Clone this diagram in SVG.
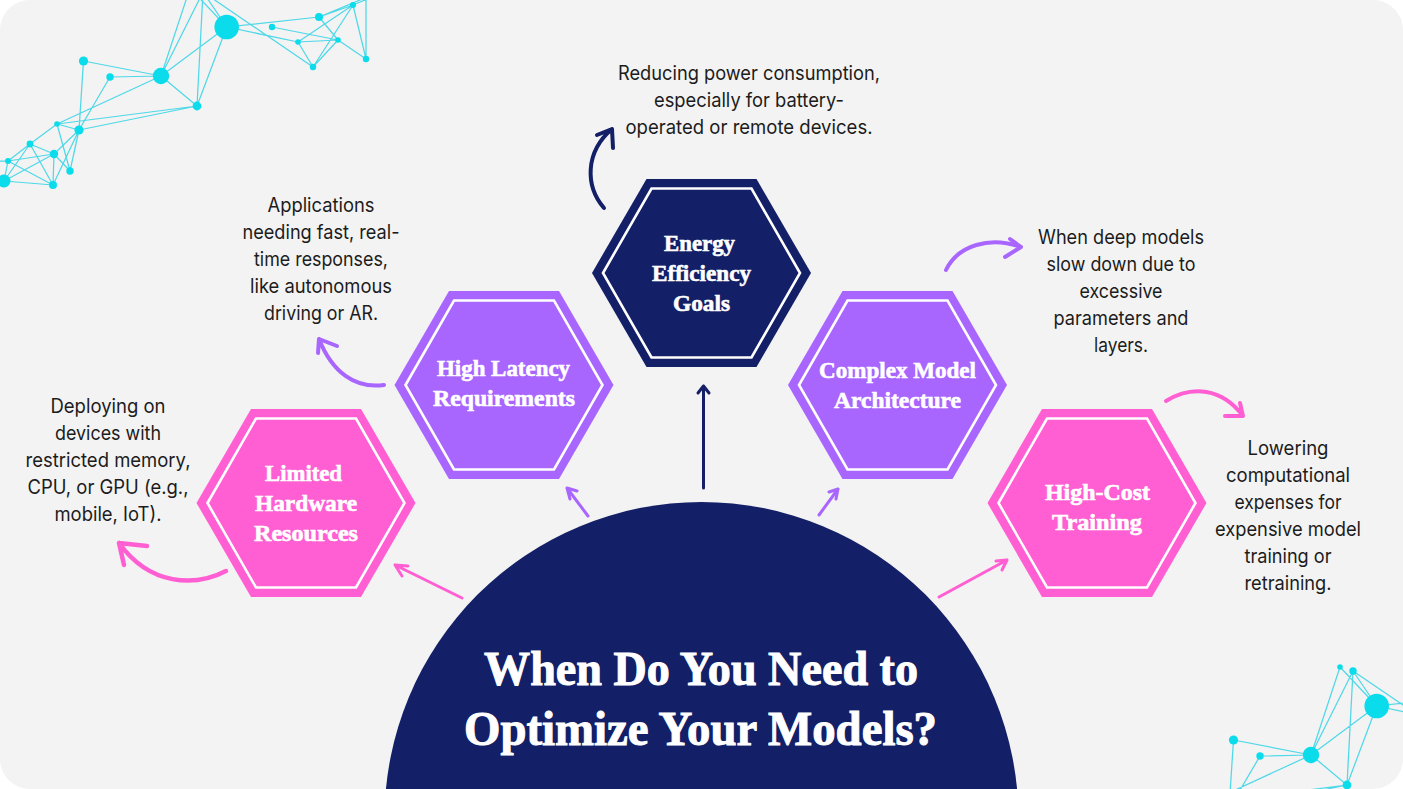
<svg xmlns="http://www.w3.org/2000/svg" xmlns:xlink="http://www.w3.org/1999/xlink" width="1403" height="789" viewBox="0 0 1403 789">
<style>
.body{font-family:"Inter","Liberation Sans",sans-serif;font-size:19.5px;fill:#1c1c1c;text-anchor:middle}
.hl{font-family:"Liberation Serif",serif;font-weight:bold;font-size:23px;fill:#fff;stroke:#fff;stroke-width:.6;text-anchor:middle}
.title{font-family:"Liberation Serif",serif;font-weight:bold;font-size:48px;fill:#fff;stroke:#fff;stroke-width:1;text-anchor:middle}
.inner{fill:none;stroke:#fff;stroke-width:2.6}
.pink{fill:#ff5fd2}.purple{fill:#a966ff}.navy{fill:#131f66}
.a{fill:none;stroke-linecap:round;stroke-linejoin:round}
.ap{stroke:#ff5fd2}.au{stroke:#a966ff}.an{stroke:#131f66}
.e{stroke:#4fd8e8;stroke-width:1.25;fill:none}
.n{fill:#0bdcec}
</style>
<defs>
<polygon id="hexo" points="-109.500,0 -55,-94 55,-94 109.500,0 55,94 -55,94"/>
<polygon id="hexi" class="inner" points="-98.500,0 -50,-84.500 50,-84.500 98.500,0 50,84.500 -50,84.500"/>
<g id="net">
<path class="e" d="M226.700 27L161 76M226.700 27L197 106M226.700 27L190 -12M226.700 27L203 -8M161 76L190 -12M161 76L203 -8M161 76L197 106M203 -8L197 106M161 76L83.500 61M161 76L110 77M83.500 61L79 130M110 77L79 130M161 76L57 124M57 124L197 106M79 130L197 106M57 124L79 130M57 124L70 171M79 130L70 171M79 130L53 185M79 130L54 154M57 124L30 144M30 144L8 161M30 144L54 154M30 144L53 185M8 161L54 154M8 161L4 181M4 181L30 144M4 181L54 154M4 181L53 185M8 161L53 185M54 154L53 185M54 154L70 171M0 161L8 161M226.700 27L319 17M226.700 27L298 42M272 27L338 40M203 -8L313 67M298 42L338 40M298 42L313 67M298 42L353 5M319 17L338 40M319 17L353 5M319 17L372 -5M313 67L353 5M313 67L338 40M338 40L366 59M353 5L366 59M366 59L366 -5M353 5L372 -3"/>
<circle class="n" cx="226.700" cy="27" r="12.300"/><circle class="n" cx="161" cy="76" r="8.200"/><circle class="n" cx="83.500" cy="61" r="4.600"/><circle class="n" cx="110" cy="77" r="3.700"/><circle class="n" cx="197" cy="106" r="4.400"/><circle class="n" cx="57" cy="124" r="2.800"/><circle class="n" cx="79" cy="130" r="4.600"/><circle class="n" cx="30" cy="144" r="3.400"/><circle class="n" cx="54" cy="154" r="4.200"/><circle class="n" cx="8" cy="161" r="3"/><circle class="n" cx="70" cy="171" r="3.700"/><circle class="n" cx="53" cy="185" r="4"/><circle class="n" cx="4" cy="181" r="6.500"/><circle class="n" cx="190" cy="-12" r="2.800"/><circle class="n" cx="203" cy="-8" r="3.700"/><circle class="n" cx="272" cy="27" r="3.200"/><circle class="n" cx="319" cy="17" r="4"/><circle class="n" cx="298" cy="42" r="2.800"/><circle class="n" cx="338" cy="40" r="2.800"/><circle class="n" cx="313" cy="67" r="3.200"/><circle class="n" cx="366" cy="59" r="3.200"/><circle class="n" cx="353" cy="5" r="3"/>
</g>
</defs>
<rect width="1403" height="789" fill="#fff"/>
<rect width="1403" height="789" rx="30" fill="#f3f3f3"/>
<g id="network-top-left"><use xlink:href="#net" href="#net"/></g>
<g id="network-bottom-right"><use xlink:href="#net" href="#net" transform="translate(1150 679)"/></g>
<path d="M1403 759V789H1373A30 30 0 0 0 1403 759Z" fill="#fff"/>
<g id="title-dome">
<circle class="navy" cx="701.500" cy="819" r="317"/>
<text class="title" x="701" y="685" textLength="434" lengthAdjust="spacingAndGlyphs">When Do You Need to</text>
<text class="title" x="700.500" y="745" textLength="473" lengthAdjust="spacingAndGlyphs">Optimize Your Models?</text>
</g>
<g id="connectors">
<g class="a ap" stroke-width="3"><path d="M462 598L395 565M408 566L395 565L402 576"/><path d="M939 597L1007 560M996 561L1007 560L1002 570"/></g>
<g class="a au" stroke-width="3"><path d="M588 516L567 488M577 491L567 488L570 499"/><path d="M819 515L838 489M829 492L838 489L836 499"/></g>
<g class="a an" stroke-width="3"><path d="M703.500 488V386M698 393L703.500 386L709 393"/></g>
<g class="a ap" stroke-width="4.500"><path d="M226 571C195 587 150 586 119 543M147 546L119 543L124 565"/><path d="M1166 401C1192 385 1222 388 1243 416M1240 403L1243 416L1225 416" stroke-width="4"/></g>
<g class="a au" stroke-width="4"><path d="M384 385C355 389 332 372 319 339M337 346L319 339L318 353"/><path d="M946 270C958 245 990 236 1021 247M1010 239L1021 247L1005 257"/></g>
<g class="a an" stroke-width="4"><path d="M604 208C585 186 585 152 612 129M597 135L612 129L613 148"/></g>
</g>
<g id="node-limited-hardware" transform="translate(306 503)"><use xlink:href="#hexo" href="#hexo" class="pink"/><use xlink:href="#hexi" href="#hexi"/></g>
<g id="node-high-latency" transform="translate(504 385)"><use xlink:href="#hexo" href="#hexo" class="purple"/><use xlink:href="#hexi" href="#hexi"/></g>
<g id="node-energy" transform="translate(701.500 273)"><use xlink:href="#hexo" href="#hexo" class="navy"/><use xlink:href="#hexi" href="#hexi"/></g>
<g id="node-complex-model" transform="translate(897.500 385)"><use xlink:href="#hexo" href="#hexo" class="purple"/><use xlink:href="#hexi" href="#hexi"/></g>
<g id="node-high-cost" transform="translate(1097 503)"><use xlink:href="#hexo" href="#hexo" class="pink"/><use xlink:href="#hexi" href="#hexi"/></g>
<g id="labels">
<text class="hl" x="303.500" y="481" textLength="77" lengthAdjust="spacingAndGlyphs">Limited</text>
<text class="hl" x="306" y="511" textLength="102" lengthAdjust="spacingAndGlyphs">Hardware</text>
<text class="hl" x="306" y="541" textLength="104" lengthAdjust="spacingAndGlyphs">Resources</text>
<text class="hl" x="503.500" y="376" textLength="133" lengthAdjust="spacingAndGlyphs">High Latency</text>
<text class="hl" x="504" y="406" textLength="142" lengthAdjust="spacingAndGlyphs">Requirements</text>
<text class="hl" x="699.500" y="251" textLength="71" lengthAdjust="spacingAndGlyphs">Energy</text>
<text class="hl" x="701.500" y="281" textLength="99" lengthAdjust="spacingAndGlyphs">Efficiency</text>
<text class="hl" x="701.500" y="311" textLength="57" lengthAdjust="spacingAndGlyphs">Goals</text>
<text class="hl" x="897.500" y="378" textLength="157" lengthAdjust="spacingAndGlyphs">Complex Model</text>
<text class="hl" x="897.500" y="408" textLength="127" lengthAdjust="spacingAndGlyphs">Architecture</text>
<text class="hl" x="1097.500" y="500" textLength="105" lengthAdjust="spacingAndGlyphs">High-Cost</text>
<text class="hl" x="1097" y="530" textLength="90" lengthAdjust="spacingAndGlyphs">Training</text>
</g>
<g id="descriptions">
<text class="body" x="749" y="79.500" textLength="262" lengthAdjust="spacingAndGlyphs">Reducing power consumption,</text>
<text class="body" x="749" y="106.500" textLength="190" lengthAdjust="spacingAndGlyphs">especially for battery-</text>
<text class="body" x="749" y="133.500" textLength="247" lengthAdjust="spacingAndGlyphs">operated or remote devices.</text>
<text class="body" x="321" y="211.500" textLength="107" lengthAdjust="spacingAndGlyphs">Applications</text>
<text class="body" x="321" y="238.500" textLength="157" lengthAdjust="spacingAndGlyphs">needing fast, real-</text>
<text class="body" x="321" y="265.500" textLength="134" lengthAdjust="spacingAndGlyphs">time responses,</text>
<text class="body" x="321" y="292.500" textLength="142" lengthAdjust="spacingAndGlyphs">like autonomous</text>
<text class="body" x="321" y="319.500" textLength="114" lengthAdjust="spacingAndGlyphs">driving or AR.</text>
<text class="body" x="108" y="412.500" textLength="115" lengthAdjust="spacingAndGlyphs">Deploying on</text>
<text class="body" x="108" y="439.500" textLength="106" lengthAdjust="spacingAndGlyphs">devices with</text>
<text class="body" x="108" y="466.500" textLength="165" lengthAdjust="spacingAndGlyphs">restricted memory,</text>
<text class="body" x="108" y="493.500" textLength="161" lengthAdjust="spacingAndGlyphs">CPU, or GPU (e.g.,</text>
<text class="body" x="108" y="520.500" textLength="107" lengthAdjust="spacingAndGlyphs">mobile, IoT).</text>
<text class="body" x="1121" y="243.500" textLength="166" lengthAdjust="spacingAndGlyphs">When deep models</text>
<text class="body" x="1121" y="270.500" textLength="149" lengthAdjust="spacingAndGlyphs">slow down due to</text>
<text class="body" x="1121" y="297.500" textLength="83" lengthAdjust="spacingAndGlyphs">excessive</text>
<text class="body" x="1121" y="324.500" textLength="135" lengthAdjust="spacingAndGlyphs">parameters and</text>
<text class="body" x="1121" y="351.500" textLength="54" lengthAdjust="spacingAndGlyphs">layers.</text>
<text class="body" x="1288" y="454.500" textLength="81" lengthAdjust="spacingAndGlyphs">Lowering</text>
<text class="body" x="1288" y="481.500" textLength="124" lengthAdjust="spacingAndGlyphs">computational</text>
<text class="body" x="1288" y="508.500" textLength="107" lengthAdjust="spacingAndGlyphs">expenses for</text>
<text class="body" x="1288" y="535.500" textLength="146" lengthAdjust="spacingAndGlyphs">expensive model</text>
<text class="body" x="1288" y="562.500" textLength="87" lengthAdjust="spacingAndGlyphs">training or</text>
<text class="body" x="1288" y="589.500" textLength="87" lengthAdjust="spacingAndGlyphs">retraining.</text>
</g>
</svg>
